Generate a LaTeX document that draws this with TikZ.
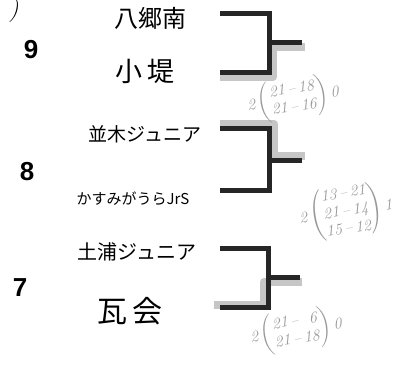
\documentclass[tikz,border=0pt]{standalone}
\usepackage{fontspec}
\usepackage{amsmath}
\newfontfamily\jpfont{Noto Sans CJK JP}
\newfontfamily\numfont{Liberation Sans}
\usetikzlibrary{positioning}
\tikzset{
team/.style={font=\jpfont\fontsize{24}{24}\selectfont, inner sep=0pt},
seed/.style={font=\numfont\bfseries\fontsize{26}{26}\selectfont, inner sep=0pt},
score/.style={text=gray!80, font=\fontsize{16}{18}\selectfont\itshape, rotate=9, inner sep=0pt},
bar/.style={line width=5pt, black!85, line join=miter},
winbar/.style={line width=8pt, gray!45, line join=round},
}
\newcommand{\games}[3]{#1\,$\left(\vcenter{\hbox{\begin{tabular}{@{}c@{}}#2\end{tabular}}}\right)$\,#3}

\begin{document}
\begin{tikzpicture}[x=1pt, y=-1pt]
    \useasboundingbox (0,0) rectangle (406,365);

    % cut off mark at the top left
    \node[inner sep=0pt, font=\fontsize{24}{24}\selectfont\itshape] (cut) at (14,11) {)};

    % seeds
    \node[seed] (n9) at (31,50) {9};
    \node[seed] (n8) at (27,172) {8};
    \node[seed] (n7) at (20,288) {7};

    % teams
    \node[team] (p1) at (150,18) {八郷南};
    \node[team, font=\jpfont\fontsize{27}{27}\selectfont] (p2) at (145,71) {小\,堤};
    \node[team, font=\jpfont\fontsize{19}{19}\selectfont] (p3) at (145,134) {並木ジュニア};
    \node[team, font=\jpfont\fontsize{15}{15}\selectfont] (p4) at (133,199) {かすみがうらJrS};
    \node[team, font=\jpfont\fontsize{20}{20}\selectfont] (p5) at (137,252) {土浦ジュニア};
    \node[team, font=\jpfont\fontsize{30}{30}\selectfont] (p6) at (130,311) {瓦\,会};

    % bracket corners
    \coordinate (t1) at (220,13);  \coordinate (tc1) at (269,13);
    \coordinate (b1) at (220,72);  \coordinate (bc1) at (269,72);
    \coordinate (m1) at (269,42);  \coordinate (w1) at (302,42);

    \coordinate (t2) at (220,128); \coordinate (tc2) at (269,128);
    \coordinate (b2) at (220,190); \coordinate (bc2) at (269,190);
    \coordinate (m2) at (269,160); \coordinate (w2) at (302,160);

    \coordinate (t3) at (220,248); \coordinate (tc3) at (268,248);
    \coordinate (b3) at (220,307); \coordinate (bc3) at (268,307);
    \coordinate (m3) at (268,277); \coordinate (w3) at (300,277);

    % winner marks
    \draw[winbar] ([shift={(0,5)}]b1) -- ([shift={(4,5)}]bc1) -- ([shift={(4,5)}]m1) -- ([shift={(3,5)}]w1);
    \draw[winbar] ([shift={(0,-4)}]t2) -- ([shift={(5,-4)}]tc2) -- ([shift={(5,-4)}]m2) -- ([shift={(3,-4)}]w2);
    \draw[winbar] ([shift={(-6,-2)}]b3) -- ([shift={(-4,-2)}]bc3) -- ([shift={(-4,5)}]m3) -- ([shift={(2,5)}]w3);

    % brackets
    \draw[bar] (t1) -- (tc1) -- (bc1) -- (b1);
    \draw[bar] (m1) -- (w1);
    \draw[bar] (t2) -- (tc2) -- (bc2) -- (b2);
    \draw[bar] (m2) -- (w2);
    \draw[bar] (t3) -- (tc3) -- (bc3) -- (b3);
    \draw[bar] (m3) -- (w3);

    % scores
    \node[score] (s1) at (293,99) {\games{2}{21\,--\,18\\21\,--\,16}{0}};
    \node[score] (s2) at (346,212) {\games{2}{13\,--\,21\\21\,--\,14\\15\,--\,12}{1}};
    \node[score] (s3) at (296,331) {\games{2}{21\,--\,\phantom{1}6\\21\,--\,18}{0}};
\end{tikzpicture}
\end{document}
